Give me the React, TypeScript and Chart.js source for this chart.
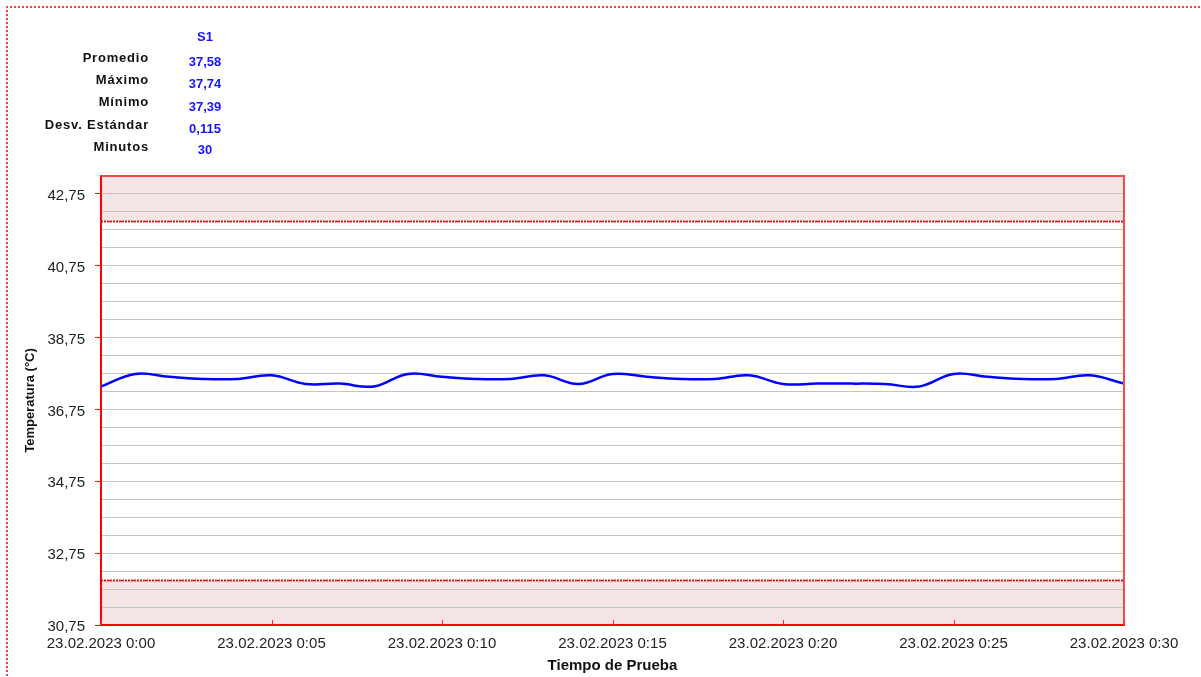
import React, { useEffect, useRef } from "react";
import { Chart, registerables } from "chart.js";

Chart.register(...registerables);

const minutes = [0, 1, 2, 3, 4, 5, 6, 7, 8, 9, 10, 11, 12, 13, 14, 15, 16, 17, 18, 19, 20, 21, 22, 23, 24, 25, 26, 27, 28, 29, 30];
const temps = [37.39, 37.74, 37.66, 37.6, 37.6, 37.7, 37.46, 37.47, 37.39, 37.74, 37.66, 37.6, 37.6, 37.7, 37.46, 37.74, 37.66, 37.6, 37.6, 37.7, 37.46, 37.47, 37.47, 37.46, 37.39, 37.74, 37.66, 37.6, 37.6, 37.7, 37.47];
const upperLimit = 42;
const lowerLimit = 32;
const yMin = 30.75;
const yMax = 43.25;
const xTickMinutes = [0, 5, 10, 15, 20, 25, 30];
const datePrefix = "23.02.2023";
const statLabels = ["Promedio", "Máximo", "Mínimo", "Desv. Estándar", "Minutos"];
const statValues = ["37,58", "37,74", "37,39", "0,115", "30"];
const seriesName = "S1";

const FONT = '"Liberation Sans", Arial, sans-serif';

const bandsPlugin = {
  id: "bands",
  beforeDraw(chart: any) {
    const { ctx, chartArea, scales } = chart;
    const y = scales.y;
    ctx.save();
    ctx.fillStyle = "rgb(244,228,230)";
    const yu = y.getPixelForValue(upperLimit);
    ctx.fillRect(chartArea.left, chartArea.top, chartArea.right - chartArea.left, yu - chartArea.top);
    const yl = y.getPixelForValue(lowerLimit);
    ctx.fillRect(chartArea.left, yl, chartArea.right - chartArea.left, chartArea.bottom - yl);
    ctx.restore();
  },
  afterDatasetsDraw(chart: any) {
    const { ctx, chartArea, scales } = chart;
    const y = scales.y;
    const x = scales.x;
    ctx.save();
    [upperLimit, lowerLimit].forEach((v) => {
      const py = Math.round(y.getPixelForValue(v)) + 0.5;
      ctx.lineWidth = 2;
      ctx.strokeStyle = "rgb(240,30,30)";
      ctx.setLineDash([2, 1]);
      ctx.beginPath();
      ctx.moveTo(chartArea.left, py);
      ctx.lineTo(chartArea.right, py);
      ctx.stroke();
      ctx.lineWidth = 1;
      ctx.strokeStyle = "rgb(70,30,30)";
      ctx.setLineDash([1, 3]);
      ctx.beginPath();
      ctx.moveTo(chartArea.left, py);
      ctx.lineTo(chartArea.right, py);
      ctx.stroke();
    });
    ctx.setLineDash([]);
    // top and right border
    ctx.strokeStyle = "rgb(255,70,70)";
    ctx.lineWidth = 2;
    ctx.beginPath();
    ctx.moveTo(chartArea.left, chartArea.top);
    ctx.lineTo(chartArea.right, chartArea.top);
    ctx.lineTo(chartArea.right, chartArea.bottom);
    ctx.stroke();
    // inward x tick marks
    ctx.strokeStyle = "rgb(255,40,40)";
    ctx.lineWidth = 1;
    xTickMinutes.forEach((m) => {
      const px = Math.round(x.getPixelForValue(m)) + 0.5;
      ctx.beginPath();
      ctx.moveTo(px, chartArea.bottom);
      ctx.lineTo(px, chartArea.bottom - 5);
      ctx.stroke();
    });
    ctx.restore();
  },
};

export default function App() {
  const canvasRef = useRef<HTMLCanvasElement | null>(null);

  useEffect(() => {
    const canvas = canvasRef.current;
    if (!canvas) return;
    const chart = new Chart(canvas, {
      type: "line",
      data: {
        datasets: [
          {
            label: seriesName,
            data: minutes.map((m, i) => ({ x: m, y: temps[i] })),
            borderColor: "#0000ff",
            borderWidth: 2.5,
            pointRadius: 0,
            tension: 0.4,
            fill: false,
          },
        ],
      },
      options: {
        animation: false,
        responsive: false,
        devicePixelRatio: 1,
        layout: { padding: { top: 176, right: 77, left: 0, bottom: 0 } },
        plugins: { legend: { display: false }, tooltip: { enabled: false } },
        scales: {
          x: {
            type: "linear",
            min: 0,
            max: 30,
            afterFit: (s: any) => {
              s.height = 52;
            },
            afterBuildTicks: (s: any) => {
              s.ticks = xTickMinutes.map((v) => ({ value: v }));
            },
            ticks: {
              autoSkip: false,
              maxRotation: 0,
              padding: 10,
              color: "#222",
              font: { family: FONT, size: 15 },
              callback: (v: any) => `${datePrefix} 0:${String(v).padStart(2, "0")}`,
            },
            grid: { drawOnChartArea: false, drawTicks: false },
            border: { color: "red", width: 2 },
            title: {
              display: true,
              text: "Tiempo de Prueba",
              color: "#111",
              font: { family: FONT, size: 15, weight: "bold" },
              padding: { top: 0, bottom: 2 },
            },
          },
          y: {
            type: "linear",
            min: yMin,
            max: yMax,
            afterFit: (s: any) => {
              s.width = 101;
            },
            ticks: {
              stepSize: 0.5,
              autoSkip: false,
              padding: 10,
              labelOffset: 2,
              color: "#222",
              font: { family: FONT, size: 15 },
              callback: (v: any) => {
                const idx = Math.round((Number(v) - yMin) / 0.5);
                return idx % 4 === 0 ? Number(v).toFixed(2).replace(".", ",") : "";
              },
            },
            grid: {
              color: "#c4c4c4",
              lineWidth: 1,
              tickLength: 6,
              tickColor: (c: any) => {
                const v = c.tick ? c.tick.value : 0;
                const idx = Math.round((v - yMin) / 0.5);
                return idx % 4 === 0 ? "red" : "rgba(0,0,0,0)";
              },
            },
            border: { color: "red", width: 2 },
            title: {
              display: true,
              text: "Temperatura (°C)",
              color: "#111",
              font: { family: FONT, size: 13, weight: "bold" },
              padding: { top: 23, bottom: 0 },
            },
          },
        },
      },
      plugins: [bandsPlugin],
    } as any);
    return () => chart.destroy();
  }, []);

  const labelTops = [58, 80, 102, 125, 147];
  const valueTops = [62, 84, 107, 129, 150];

  return (
    <div style={{ position: "fixed", left: 0, top: 0, width: 1201, height: 677, background: "#fff", overflow: "hidden" }}>
      <div
        style={{
          position: "absolute",
          left: 6,
          top: 6,
          width: 1400,
          height: 900,
          borderTop: "2px dotted rgb(255,60,60)",
          borderLeft: "2px dotted rgb(255,60,60)",
        }}
      />
      <canvas ref={canvasRef} width={1201} height={677} style={{ position: "absolute", left: 0, top: 0 }} />
      <div
        style={{
          position: "absolute",
          left: 165,
          width: 80,
          top: 37 - 8,
          textAlign: "center",
          fontFamily: FONT,
          fontWeight: "bold",
          fontSize: 13,
          lineHeight: "16px",
          color: "#1414ff",
        }}
      >
        {seriesName}
      </div>
      {statLabels.map((l, i) => (
        <div
          key={l}
          style={{
            position: "absolute",
            right: 1201 - 149,
            top: labelTops[i] - 8,
            textAlign: "right",
            whiteSpace: "nowrap",
            fontFamily: FONT,
            fontWeight: "bold",
            fontSize: 13,
            lineHeight: "16px",
            letterSpacing: "0.8px",
            color: "#111",
          }}
        >
          {l}
        </div>
      ))}
      {statValues.map((v, i) => (
        <div
          key={i}
          style={{
            position: "absolute",
            left: 165,
            width: 80,
            top: valueTops[i] - 8,
            textAlign: "center",
            fontFamily: FONT,
            fontWeight: "bold",
            fontSize: 13,
            lineHeight: "16px",
            color: "#1414ff",
          }}
        >
          {v}
        </div>
      ))}
    </div>
  );
}
